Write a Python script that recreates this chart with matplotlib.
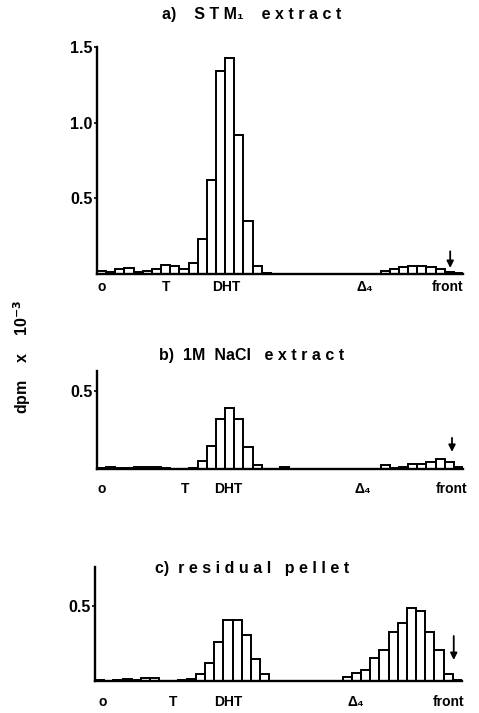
import numpy as np
import matplotlib
matplotlib.use("Agg")
import matplotlib.pyplot as plt
import matplotlib.transforms as mtransforms

plt.rcParams['font.family'] = ['Liberation Sans', 'DejaVu Sans']
plt.rcParams['font.weight'] = 'bold'

# 40 fractions along the chromatogram, origin -> front
bins = np.arange(40)

stm1 = [0.02, 0.01, 0.03, 0.04, 0.01, 0.02, 0.03, 0.06, 0.055, 0.03,
        0.07, 0.23, 0.62, 1.34, 1.43, 0.92, 0.35, 0.05, 0.005, 0.0,
        0.0, 0.002, 0.0, 0.0, 0.0, 0.0, 0.0, 0.002, 0.0, 0.0,
        0.0, 0.02, 0.03, 0.045, 0.055, 0.05, 0.045, 0.03, 0.015, 0.005]

nacl = [0.005, 0.01, 0.005, 0.005, 0.01, 0.015, 0.01, 0.005, 0.0, 0.0,
        0.005, 0.05, 0.15, 0.32, 0.39, 0.32, 0.14, 0.025, 0.0, 0.0,
        0.01, 0.0, 0.0, 0.0, 0.0, 0.0, 0.0, 0.0, 0.0, 0.0,
        0.0, 0.025, 0.005, 0.01, 0.03, 0.035, 0.045, 0.065, 0.045, 0.01]

pellet = [0.01, 0.0, 0.005, 0.015, 0.01, 0.02, 0.02, 0.0, 0.0, 0.005,
          0.015, 0.05, 0.12, 0.26, 0.41, 0.41, 0.31, 0.15, 0.05, 0.0,
          0.0, 0.0, 0.0, 0.0, 0.0, 0.0, 0.0, 0.03, 0.055, 0.075,
          0.155, 0.21, 0.33, 0.39, 0.49, 0.47, 0.33, 0.21, 0.05, 0.005]

marker_names = ['o', 'T', 'DHT', 'Δ₄', 'front']
marker_pos = [[0.5, 7.6, 14.1, 29.3, 38.3],
              [0.5, 9.6, 14.3, 29.0, 38.7],
              [0.8, 8.5, 14.5, 28.4, 38.5]]

titles = ['a)    S T M₁    e x t r a c t',
          'b)  1M  NaCl   e x t r a c t',
          'c)  r e s i d u a l   p e l l e t']
series = [stm1, nacl, pellet]
ytops = [1.5, 0.63, 0.76]
yticks = [[0.5, 1.0, 1.5], [0.5], [0.5]]
arrow_x = [38.6, 38.8, 39.1]
arrow_y = [(0.15, 0.04), (0.20, 0.11), (0.30, 0.14)]

# axes boxes in pixels: left, right, baseline, top
boxes = [(97, 463, 274, 47), (97, 463, 469, 371), (95, 462, 681, 567)]
title_y = [15, 355, 568]
label_off = [13, 20, 21]

W, H = 479, 713
fig = plt.figure(figsize=(W / 100, H / 100), dpi=100)

for i in range(3):
    l, r, b, t = boxes[i]
    ax = fig.add_axes([l / W, (H - b) / H, (r - l) / W, (b - t) / H])
    ax.bar(bins, series[i], width=1, align='edge', fill=False,
           edgecolor='black', linewidth=1.4)
    ax.set_xlim(0, 40)
    ax.set_ylim(0, ytops[i])
    for s in ['top', 'right']:
        ax.spines[s].set_visible(False)
    for s in ['left', 'bottom']:
        ax.spines[s].set_linewidth(1.7)
    ax.set_xticks([])
    ax.set_yticks(yticks[i])
    ax.set_yticklabels([f'{v:.1f}' for v in yticks[i]], fontsize=11.5, fontweight='bold')
    ax.tick_params(axis='y', length=2, width=1.2, pad=1)

    trans = mtransforms.blended_transform_factory(ax.transData, fig.transFigure)
    for name, x in zip(marker_names, marker_pos[i]):
        ax.text(x, 1 - (b + label_off[i]) / H, name, transform=trans,
                ha='center', va='center', fontsize=10, fontweight='bold')

    ax.annotate('', xy=(arrow_x[i], arrow_y[i][1]), xytext=(arrow_x[i], arrow_y[i][0]),
                arrowprops=dict(arrowstyle='-|>', color='black', lw=1.3,
                                mutation_scale=10, shrinkA=0, shrinkB=0))
    fig.text(252 / W, 1 - title_y[i] / H, titles[i], ha='center', va='center',
             fontsize=11.5, fontweight='bold')

fig.text(22 / W, 1 - 357 / H, r'dpm    x    10$^{\mathbf{-3}}$', rotation=90,
         ha='center', va='center', fontsize=11.5, fontweight='bold')

fig.savefig('out.png', dpi=100)
